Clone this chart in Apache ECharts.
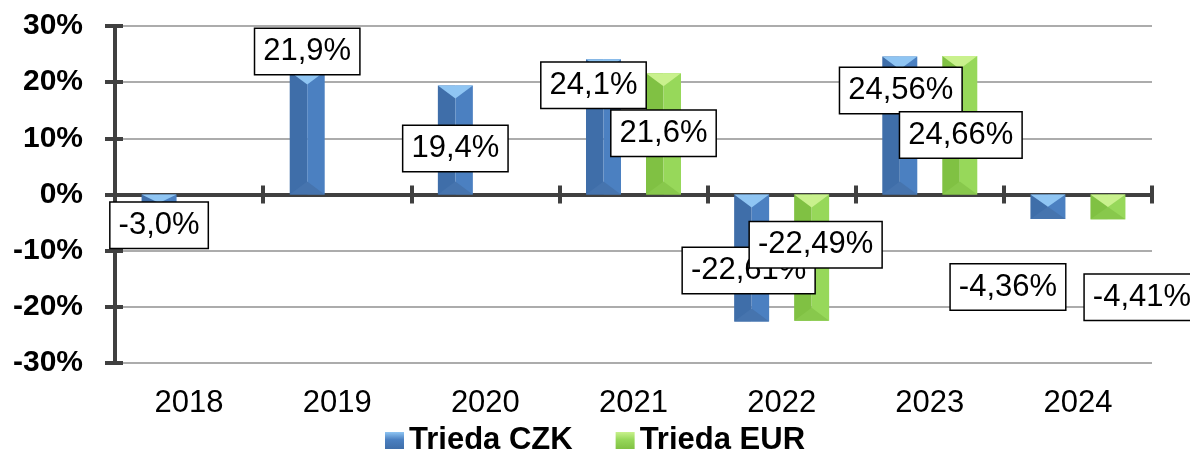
<!DOCTYPE html>
<html>
<head>
<meta charset="utf-8">
<style>
  html, body { margin: 0; padding: 0; background: #fff; }
  #chart { width: 1190px; height: 449px; }
</style>
<script src="https://cdn.jsdelivr.net/npm/echarts@6/dist/echarts.min.js"></script>
</head>
<body>
<div id="chart"></div>
<script>
// data
const years = ['2018', '2019', '2020', '2021', '2022', '2023', '2024'];
const czk = [-3.0, 21.9, 19.4, 24.1, -22.61, 24.56, -4.36];
const eur = [null, null, null, 21.6, -22.49, 24.66, -4.41];
const czkDecimals = [1, 1, 1, 1, 2, 2, 2];
const eurDecimals = [0, 0, 0, 1, 2, 2, 2];
const yMin = -30, yMax = 30, yStep = 10;

// label box centre, relative to the end of its bar (px)
const czkLabelShift = [[0, 14], [0, -20], [0, 63], [-10, 26], [-3, -51], [1, 34], [-40, 68]];
const eurLabelShift = [null, null, null, [0, 60], [4, -76], [1, 79], [34, 78]];

const FONT = '"Liberation Sans", Arial, sans-serif';
const BAR_W = 35;
const blue = { left: '#3f6ea9', right: '#4b80c1', top: '#8fc5f3', bottom: '#4674ae' };
const green = { left: '#80c143', right: '#97d85a', top: '#c9f18d', bottom: '#88c84c' };

const fmt = (v, d) => v.toFixed(d).replace('.', ',') + '%';

function bevelBar(shift, col, decimals, labelShift, zLabel) {
  return function (params, api) {
    const i = api.value(0);
    const v = api.value(1);
    const end = api.coord([i, v]);
    const base = api.coord([i, 0]);
    const cx = end[0] + shift;
    const x0 = cx - BAR_W / 2, x1 = cx + BAR_W / 2;
    const yTop = Math.min(end[1], base[1]);
    const yBot = Math.max(end[1], base[1]);
    const len = yBot - yTop;
    const b = Math.min(13, len / 2);
    const children = [
      { type: 'rect', shape: { x: x0, y: yTop, width: BAR_W / 2, height: len }, style: { fill: col.left } },
      { type: 'rect', shape: { x: cx, y: yTop, width: BAR_W / 2, height: len }, style: { fill: col.right } },
      { type: 'polygon', shape: { points: [[x0, yBot], [x1, yBot], [cx, yBot - b]] }, style: { fill: col.bottom } },
      { type: 'polygon', shape: { points: [[x0, yTop], [x1, yTop], [cx, yTop + b]] }, style: { fill: col.top } }
    ];
    const sh = labelShift[i];
    if (sh) {
      children.push({
        type: 'text',
        x: cx + sh[0],
        y: end[1] + sh[1],
        z2: zLabel,
        style: {
          text: fmt(v, decimals[i]),
          align: 'center',
          verticalAlign: 'middle',
          fontSize: 31,
          fontFamily: FONT,
          lineHeight: 35,
          fill: '#000',
          backgroundColor: '#fff',
          borderColor: '#000',
          borderWidth: 1.5,
          padding: [5, 8, 5, 8]
        }
      });
    }
    return { type: 'group', children: children };
  };
}

const toData = arr => arr.map((v, i) => [i, v]).filter(d => d[1] != null);

const legendColor = c => new echarts.graphic.LinearGradient(0, 0, 0, 1, [
  { offset: 0, color: c.top }, { offset: 0.45, color: c.right }, { offset: 1, color: c.left }
]);

const chart = echarts.init(document.getElementById('chart'));
const catAxisBase = { type: 'category', data: years, gridIndex: 0, boundaryGap: true };

chart.setOption({
  animation: false,
  grid: { left: 115, right: 38, top: 26, bottom: 86 },
  legend: {
    top: 420,
    left: 'center',
    itemWidth: 19,
    itemHeight: 17,
    itemGap: 43,
    textStyle: { fontSize: 31, fontWeight: 'bold', fontFamily: FONT, color: '#000' },
    data: [
      { name: 'Trieda CZK', icon: 'rect', itemStyle: { color: legendColor(blue) } },
      { name: 'Trieda EUR', icon: 'rect', itemStyle: { color: legendColor(green) } }
    ]
  },
  xAxis: [
    Object.assign({}, catAxisBase, {
      position: 'bottom',
      axisLine: { show: false, onZero: false },
      axisTick: { show: false },
      axisLabel: { fontSize: 31, fontFamily: FONT, color: '#000', margin: 25 }
    }),
    Object.assign({}, catAxisBase, {
      position: 'bottom',
      axisLine: { show: true, onZero: true, lineStyle: { color: '#404040', width: 4 } },
      axisTick: { show: true, length: 9, lineStyle: { color: '#404040', width: 4 } },
      axisLabel: { show: false }
    }),
    Object.assign({}, catAxisBase, {
      position: 'bottom',
      axisLine: { show: false, onZero: true },
      axisTick: { show: true, inside: true, length: 9, lineStyle: { color: '#404040', width: 4 } },
      axisLabel: { show: false }
    })
  ],
  yAxis: [
    {
      type: 'value', min: yMin, max: yMax, interval: yStep,
      axisLine: { show: true, lineStyle: { color: '#404040', width: 4 } },
      axisTick: { show: true, length: 10, lineStyle: { color: '#404040', width: 4 } },
      axisLabel: { formatter: '{value}%', fontSize: 30, fontWeight: 'bold', fontFamily: FONT, color: '#000', margin: 32 },
      splitLine: { show: true, lineStyle: { color: '#909090', width: 1.5 } }
    },
    {
      type: 'value', min: yMin, max: yMax, interval: yStep, position: 'left',
      axisLine: { show: false },
      axisTick: { show: true, inside: true, length: 8, lineStyle: { color: '#404040', width: 4 } },
      axisLabel: { show: false },
      splitLine: { show: false }
    }
  ],
  series: [
    {
      name: 'Trieda CZK',
      type: 'custom',
      xAxisIndex: 0, yAxisIndex: 0,
      itemStyle: { color: blue.right },
      encode: { x: 0, y: 1 },
      renderItem: bevelBar(-30, blue, czkDecimals, czkLabelShift, 100),
      data: toData(czk)
    },
    {
      name: 'Trieda EUR',
      type: 'custom',
      xAxisIndex: 0, yAxisIndex: 0,
      itemStyle: { color: green.right },
      encode: { x: 0, y: 1 },
      renderItem: bevelBar(30, green, eurDecimals, eurLabelShift, 101),
      data: toData(eur)
    }
  ]
});
</script>
</body>
</html>
